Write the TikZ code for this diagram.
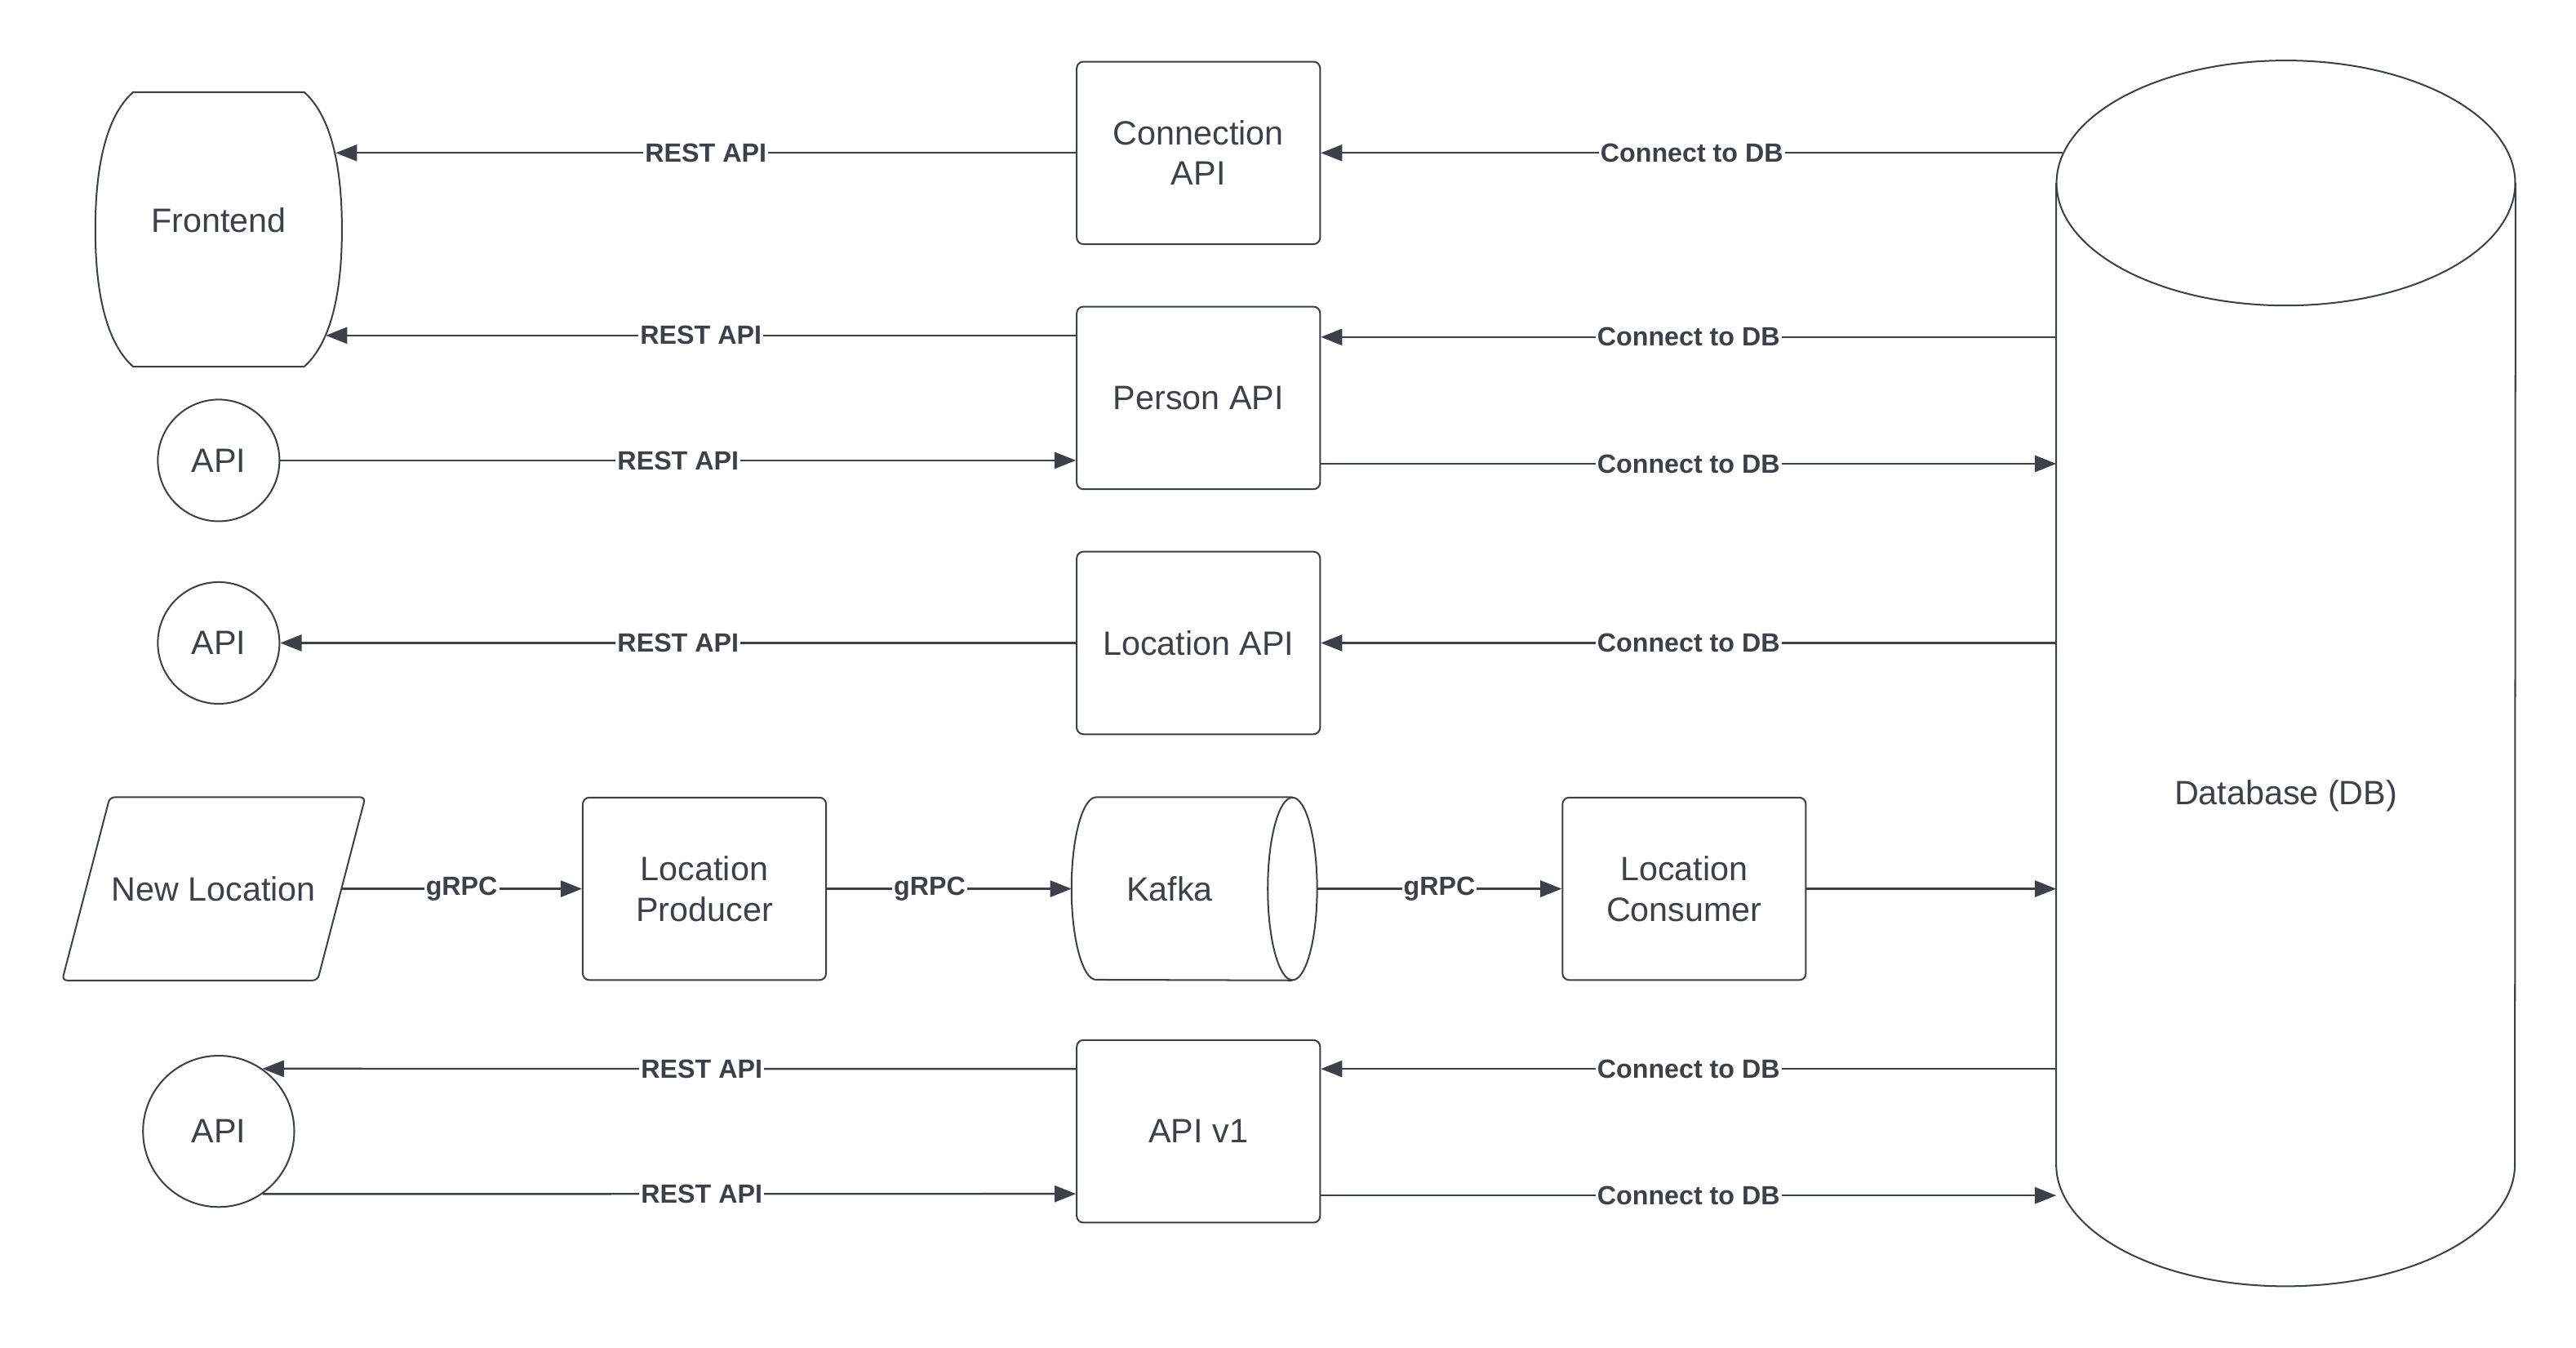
\documentclass[tikz,border=0pt]{standalone}
\usepackage{fontspec}
\setmainfont{Liberation Sans}
\usetikzlibrary{arrows.meta}
\usetikzlibrary{calc}
\definecolor{ink}{HTML}{3A414A}

\begin{document}
\begin{tikzpicture}[x=1pt, y=1pt,
        every node/.style={text=ink},
        box/.style={draw=ink, line width=1pt, rounded corners=4pt, minimum width=148pt, minimum height=111pt, align=center, font=\fontsize{20.5}{24.5}\selectfont},
        bare/.style={align=center, font=\fontsize{20.5}{24.5}\selectfont},
        apiball/.style={circle, draw=ink, line width=1pt, minimum size=#1, inner sep=0pt, font=\fontsize{20.5}{24.5}\selectfont},
        shapeline/.style={draw=ink, line width=1pt},
        arr/.style={draw=ink, line width=1.2pt, -{Triangle[length=13pt, width=10pt]}},
        lbl/.style={fill=white, inner sep=1pt, font=\bfseries\fontsize{16}{18}\selectfont}]
    \useasboundingbox (0,-3.3) rectangle (1567,816);

    % Services in the middle column
    \node[box] (conn) at (729,723) {Connection\\API};
    \node[box] (person) at (729,574) {Person API};
    \node[box] (locapi) at (729,425) {Location API};
    \node[box] (apiv1) at (729,128) {API v1};

    % Frontend and API clients
    \node[bare, minimum width=150pt, minimum height=167pt] (frontend) at (133,682) {Frontend};
    \draw[shapeline] (81,760) -- (185,760) .. controls (203,744) and (208,710) .. (208,676.5)
        .. controls (208,643) and (203,609) .. (185,593) -- (81,593)
        .. controls (63,609) and (58,643) .. (58,676.5) .. controls (58,710) and (63,744) .. (81,760) -- cycle;
    \node[apiball=74pt] (api1) at (133,536) {API};
    \node[apiball=74pt] (api2) at (133,425) {API};
    \node[apiball=92pt] (api3) at (133,128) {API};

    % Location pipeline
    \node[bare, minimum width=184pt, minimum height=111pt] (newloc) at (130,275.5) {New Location};
    \draw[shapeline, rounded corners=3pt] (newloc.south west) -- ([xshift=-29pt]newloc.south east) -- (newloc.north east) -- ([xshift=29pt]newloc.north west) -- cycle;
    \node[box] (producer) at (428.5,275.5) {Location\\Producer};
    \node[bare, minimum width=119pt, minimum height=111pt] (kafka) at (711.5,275.5) {Kafka};
    \draw[shapeline] ([xshift=15pt]kafka.north east) -- ([xshift=15pt]kafka.north west)
        arc[start angle=90, end angle=270, x radius=15, y radius=55.5] -- ([xshift=15pt]kafka.south east);
    \draw[shapeline] ([xshift=15pt]kafka.east) ellipse[x radius=15, y radius=55.5];
    \node[box] (consumer) at (1024.5,275.5) {Location\\Consumer};

    % Database cylinder
    \node[bare, minimum width=279pt, minimum height=596pt] (db) at (1390.5,332) {Database (DB)};
    \draw[shapeline] ([yshift=74.5pt]db.north) ellipse[x radius=139.5, y radius=74.5];
    \draw[shapeline] ([yshift=74.5pt]db.north west) -- ([yshift=74pt]db.south west)
        arc[start angle=180, end angle=360, x radius=139.5, y radius=74] -- ([yshift=74.5pt]db.north east);

    % REST API connectors
    \coordinate (pw1) at ([yshift=38pt]person.west);
    \draw[arr] (conn.west) -- node[lbl] {REST API} ($(frontend.east |- conn.west)+(-4,0)$);
    \draw[arr] (pw1) -- node[lbl] {REST API} ($(frontend.east |- pw1)+(-10,0)$);
    \draw[arr] (api1.east) -- node[lbl] {REST API} (api1.east -| person.west);
    \draw[arr] (locapi.west) -- node[lbl] {REST API} (api2.east);
    \draw[arr] ([yshift=38pt]apiv1.west) -- node[lbl, pos=0.46] {REST API} (api3.55.7);
    \draw[arr] (api3.-55.7) -- node[lbl, pos=0.54] {REST API} ([yshift=-38pt]apiv1.west);

    % gRPC connectors
    \draw[arr] ([xshift=-14.5pt]newloc.east) -- node[lbl] {gRPC} (producer.west);
    \draw[arr] (producer.east) -- node[lbl, pos=0.42] {gRPC} (kafka.west);
    \draw[arr] ([xshift=30pt]kafka.east) -- node[lbl] {gRPC} (consumer.west);
    \draw[arr] (consumer.east) -- (db.west |- consumer.east);

    % Database connectors
    \coordinate (pe1) at ([yshift=37pt]person.east);
    \coordinate (pe2) at ([yshift=-40pt]person.east);
    \coordinate (ve1) at ([yshift=38pt]apiv1.east);
    \coordinate (ve2) at ([yshift=-39pt]apiv1.east);
    \draw[arr] ($(db.west |- conn.east)+(4,0)$) -- node[lbl] {Connect to DB} (conn.east);
    \draw[arr] (db.west |- pe1) -- node[lbl] {Connect to DB} (pe1);
    \draw[arr] (pe2) -- node[lbl] {Connect to DB} (db.west |- pe2);
    \draw[arr] (db.west |- locapi.east) -- node[lbl] {Connect to DB} (locapi.east);
    \draw[arr] (db.west |- ve1) -- node[lbl] {Connect to DB} (ve1);
    \draw[arr] (ve2) -- node[lbl] {Connect to DB} (db.west |- ve2);
\end{tikzpicture}
\end{document}
